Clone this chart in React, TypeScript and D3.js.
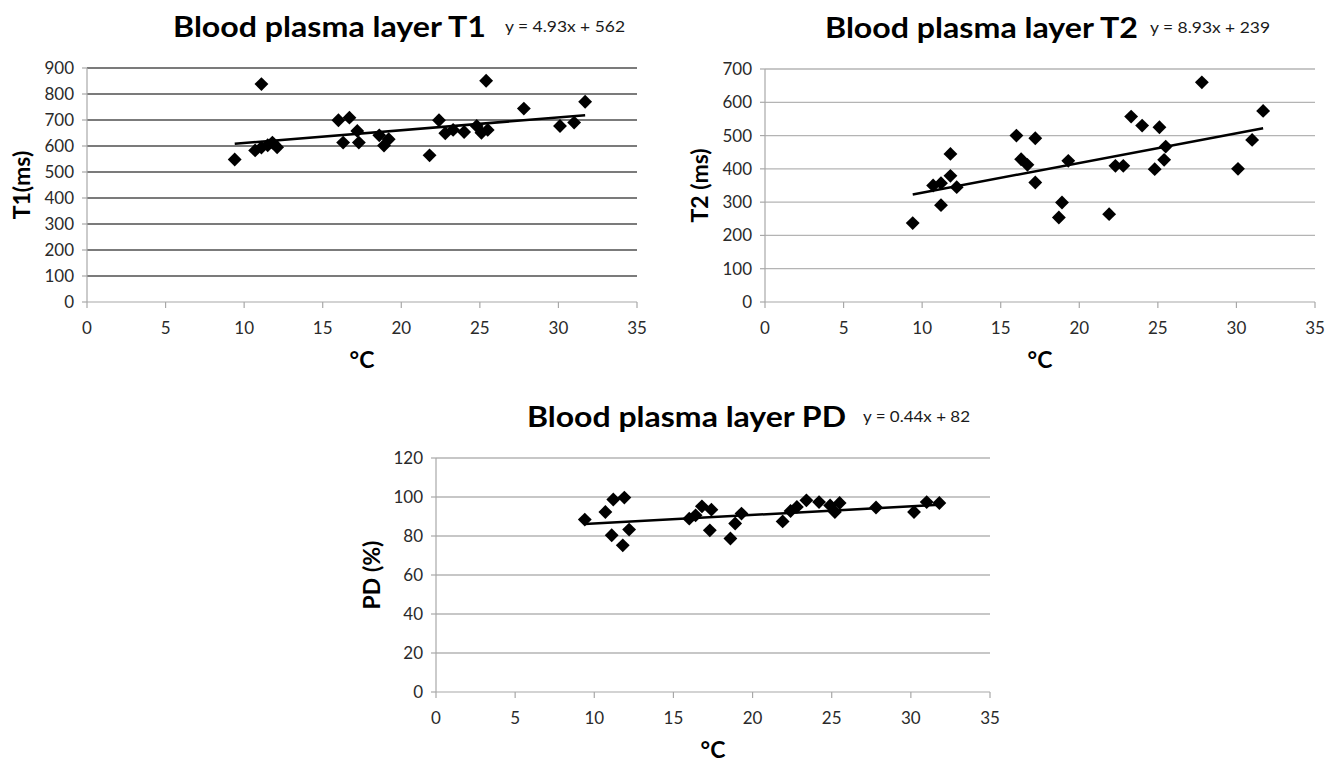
import React from 'react';
import * as d3 from 'd3';

const t1Temps = [9.4, 10.7, 11.1, 11.1, 11.5, 11.8, 12.1, 16.0, 16.3, 16.7, 17.2, 17.3, 18.6, 18.9, 19.2, 21.8, 22.4, 22.8, 23.3, 24.0, 24.8, 25.1, 25.4, 25.5, 27.8, 30.1, 31.0, 31.7];
const t1Values = [548, 583, 838, 594, 603, 613, 595, 699, 613, 709, 658, 613, 641, 602, 626, 564, 699, 649, 662, 654, 677, 651, 851, 662, 744, 677, 690, 770];

const t2Temps = [9.4, 10.7, 11.2, 11.2, 11.8, 11.8, 12.2, 16.0, 16.3, 16.7, 17.2, 17.2, 18.7, 18.9, 19.3, 21.9, 22.3, 22.8, 23.3, 24.0, 24.8, 25.1, 25.4, 25.5, 27.8, 30.1, 31.0, 31.7];
const t2Values = [237, 350, 357, 291, 445, 379, 345, 500, 429, 412, 492, 359, 254, 299, 424, 264, 409, 409, 557, 530, 399, 525, 427, 467, 660, 400, 487, 574];

const pdTemps = [9.4, 10.7, 11.2, 11.9, 11.1, 11.8, 12.2, 16.0, 16.4, 16.8, 17.4, 17.3, 18.6, 18.9, 19.3, 21.9, 22.4, 22.8, 23.4, 24.2, 24.9, 25.2, 25.5, 27.8, 30.2, 31.0, 31.8];
const pdValues = [88.4, 92.3, 98.7, 99.7, 80.4, 75.2, 83.3, 88.9, 90.6, 95.2, 93.5, 82.9, 78.7, 86.4, 91.5, 87.5, 92.8, 94.9, 98.3, 97.4, 95.7, 92.3, 96.9, 94.6, 92.3, 97.4, 96.9];

const xTicks = [0, 5, 10, 15, 20, 25, 30, 35];
const t1Ticks = [0, 100, 200, 300, 400, 500, 600, 700, 800, 900];
const t2Ticks = [0, 100, 200, 300, 400, 500, 600, 700];
const pdTicks = [0, 20, 40, 60, 80, 100, 120];

const FONT = 'Lato, "Open Sans", sans-serif';

type ChartProps = {
  left: number; right: number; top: number; bottom: number;
  temps: number[]; values: number[]; yTicks: number[];
  slope: number; intercept: number;
  title: string; titleX: number; titleW: number;
  equation: string; eqX: number; eqW: number;
  yLabel: string; yLabelX: number;
  gridColor: string; gridWidth: number;
};

const diamond = d3.symbol().type(d3.symbolSquare).size(96)();

const Chart = (p: ChartProps) => {
  const x = d3.scaleLinear().domain([0, 35]).range([p.left, p.right]);
  const yMax = p.yTicks[p.yTicks.length - 1];
  const y = d3.scaleLinear().domain([0, yMax]).range([p.bottom, p.top]);
  const [xMin, xMaxData] = d3.extent(p.temps) as [number, number];
  const trend = d3.line<number>().x(d => x(d)).y(d => y(p.slope * d + p.intercept));
  const axisColor = '#a8a8a8';
  const midX = (p.left + p.right) / 2;
  const midY = (p.top + p.bottom) / 2;

  return (
    <g>
      {/* gridlines */}
      {p.yTicks.filter(t => t > 0).map(t => (
        <line key={'g' + t} x1={p.left} x2={p.right} y1={y(t)} y2={y(t)} stroke={p.gridColor} strokeWidth={p.gridWidth} />
      ))}
      {/* axes */}
      <line x1={p.left} x2={p.left} y1={p.top} y2={p.bottom} stroke={axisColor} strokeWidth={1.2} />
      <line x1={p.left} x2={p.right} y1={p.bottom} y2={p.bottom} stroke={axisColor} strokeWidth={1.2} />
      {p.yTicks.map(t => (
        <g key={'y' + t}>
          <line x1={p.left - 5} x2={p.left} y1={y(t)} y2={y(t)} stroke={axisColor} strokeWidth={1.2} />
          <text x={p.left - 13} y={y(t)} dy="0.35em" textAnchor="end" fontSize={17} fill="#2a2a2a" fontFamily={FONT}>{t}</text>
        </g>
      ))}
      {xTicks.map(t => (
        <g key={'x' + t}>
          <line x1={x(t)} x2={x(t)} y1={p.bottom} y2={p.bottom + 6} stroke={axisColor} strokeWidth={1.2} />
          <text x={x(t)} y={p.bottom + 26} dy="0.35em" textAnchor="middle" fontSize={17} fill="#2a2a2a" fontFamily={FONT}>{t}</text>
        </g>
      ))}
      {/* trendline */}
      <path d={trend([xMin, xMaxData]) || ''} fill="none" stroke="#000" strokeWidth={2.5} />
      {/* points */}
      {p.temps.map((t, i) => (
        <path key={'p' + i} d={diamond || ''} transform={`translate(${x(t)},${y(p.values[i])}) rotate(45)`} fill="#000" />
      ))}
      {/* titles */}
      <text x={p.titleX} y={p.top - 41} dy="0.35em" fontSize={29} fontWeight="bold" fill="#000" fontFamily={FONT}
        textLength={p.titleW} lengthAdjust="spacingAndGlyphs">{p.title}</text>
      <text x={p.eqX} y={p.top - 42} dy="0.35em" fontSize={16} fill="#1a1a1a" fontFamily={FONT}
        textLength={p.eqW} lengthAdjust="spacingAndGlyphs">{p.equation}</text>
      <text x={midX} y={p.bottom + 58} dy="0.35em" textAnchor="middle" fontSize={23} fontWeight="bold" fill="#000" fontFamily={FONT}>°C</text>
      <text transform={`translate(${p.yLabelX},${midY}) rotate(-90)`} dy="0.35em" textAnchor="middle" fontSize={23} fontWeight="bold" fill="#000" fontFamily={FONT}>{p.yLabel}</text>
    </g>
  );
};

export default function App() {
  return (
    <svg width={1338} height={762} style={{ position: 'absolute', left: 0, top: 0, background: '#fff' }}>
      <rect width={1338} height={762} fill="#fff" />
      <Chart left={87} right={637} top={68} bottom={302} temps={t1Temps} values={t1Values} yTicks={t1Ticks}
        slope={4.93} intercept={562} title="Blood plasma layer T1" titleX={173} titleW={313}
        equation="y = 4.93x + 562" eqX={505} eqW={120} yLabel="T1(ms)" yLabelX={22}
        gridColor="#4f4f4f" gridWidth={1.5} />
      <Chart left={765} right={1315} top={69} bottom={302} temps={t2Temps} values={t2Values} yTicks={t2Ticks}
        slope={8.93} intercept={239} title="Blood plasma layer T2" titleX={825} titleW={313}
        equation="y = 8.93x + 239" eqX={1150} eqW={120} yLabel="T2 (ms)" yLabelX={700}
        gridColor="#b4b4b4" gridWidth={1.3} />
      <Chart left={436} right={990} top={458} bottom={692} temps={pdTemps} values={pdValues} yTicks={pdTicks}
        slope={0.44} intercept={82} title="Blood plasma layer PD" titleX={527} titleW={319}
        equation="y = 0.44x + 82" eqX={863} eqW={107} yLabel="PD (%)" yLabelX={372}
        gridColor="#b4b4b4" gridWidth={1.3} />
    </svg>
  );
}
